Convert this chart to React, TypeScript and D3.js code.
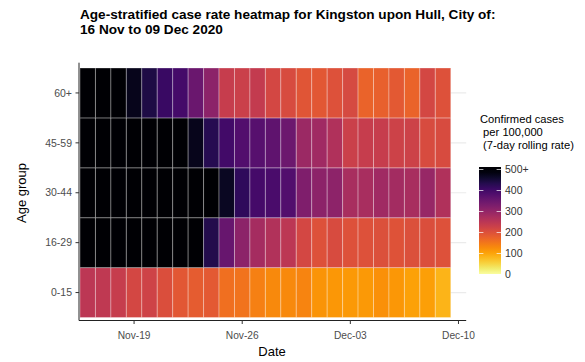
import React from "react";
import * as d3 from "d3";

const ageGroups = ["0-15", "16-29", "30-44", "45-59", "60+"];
const startDate = "2020-11-16";
const dayCount = 24;
const xTickDates = ["2020-11-19", "2020-11-26", "2020-12-03", "2020-12-10"];
const legendTicks = [0, 100, 200, 300, 400, 500];
const legendTickLabels = ["0", "100", "200", "300", "400", "500+"];

const rate0to15 = [250, 245, 235, 216, 224, 205, 190, 185, 188, 160, 155, 140, 130, 130, 135, 118, 115, 113, 112, 122, 115, 105, 107, 84];
const rate16to29 = [520, 520, 520, 520, 520, 515, 515, 510, 435, 355, 310, 278, 262, 250, 215, 200, 210, 200, 200, 202, 198, 202, 205, 200];
const rate30to44 = [520, 520, 520, 520, 520, 515, 515, 510, 505, 470, 420, 395, 390, 380, 325, 310, 308, 275, 275, 285, 280, 275, 295, 265];
const rate45to59 = [520, 520, 515, 515, 510, 510, 505, 475, 430, 400, 380, 375, 365, 348, 290, 285, 265, 230, 235, 235, 225, 225, 210, 210];
const rate60plus = [520, 510, 505, 475, 440, 410, 395, 350, 310, 235, 230, 240, 215, 210, 195, 190, 200, 212, 175, 178, 188, 175, 215, 200];

const seriesByAge: Record<string, number[]> = {
  "0-15": rate0to15,
  "16-29": rate16to29,
  "30-44": rate30to44,
  "45-59": rate45to59,
  "60+": rate60plus,
};

const FONT = "'Liberation Sans', Arial, Helvetica, sans-serif";
const DAY = 86400000;

export default function App() {
  const start = new Date(startDate + "T00:00:00Z");
  const dates = d3.range(dayCount).map((i) => new Date(start.getTime() + i * DAY));

  const x = d3
    .scaleUtc()
    .domain([new Date(start.getTime() - 0.5 * DAY), new Date(start.getTime() + 24.5 * DAY)])
    .range([80, 466.2]);
  const cellW = x(new Date(start.getTime() + DAY)) - x(start);

  const y = d3.scaleBand<string>().domain([...ageGroups].reverse()).range([68, 317.5]).padding(0);

  const color = (v: number) => d3.interpolateInferno(1 - Math.min(v, 500) / 500);

  const panelTop = 62.7;
  const panelBottom = 320.5;
  const panelLeft = 79;
  const panelRight = 466.2;

  const fmt = d3.utcFormat("%b-%d");

  const lg = d3.scaleLinear().domain([0, 500]).range([274.5, 169.5]);
  const barTop = 167;
  const barBottom = 274;
  const barX = 479;
  const barW = 22;
  const gradStops = d3.range(0, 1.0001, 0.05).map((f) => {
    const yy = barTop + f * (barBottom - barTop);
    const v = Math.max(0, Math.min(500, lg.invert(yy)));
    return { offset: f, color: color(v) };
  });

  return (
    <svg width={585} height={362} style={{ position: "absolute", left: 0, top: 0, background: "#fff" }} fontFamily={FONT}>
      <defs>
        <linearGradient id="lgGrad" x1="0" y1="0" x2="0" y2="1">
          {gradStops.map((s, i) => (
            <stop key={i} offset={s.offset} stopColor={s.color} />
          ))}
        </linearGradient>
      </defs>

      {/* title */}
      <text x={80} y={18.5} fontSize={13.6} fontWeight="bold" fill="#000">
        Age-stratified case rate heatmap for Kingston upon Hull, City of:
      </text>
      <text x={80} y={34} fontSize={13.6} fontWeight="bold" fill="#000">
        16 Nov to 09 Dec 2020
      </text>

      {/* grid lines */}
      {ageGroups.map((g) => (
        <line key={"g" + g} x1={panelLeft} x2={panelRight} y1={y(g)! + y.bandwidth() / 2} y2={y(g)! + y.bandwidth() / 2} stroke="#ebebeb" strokeWidth={1.2} />
      ))}

      {/* tiles */}
      {ageGroups.map((g) =>
        seriesByAge[g].map((v, i) => (
          <rect
            key={g + i}
            x={x(dates[i]) - cellW / 2}
            y={y(g)!}
            width={cellW}
            height={y.bandwidth()}
            fill={color(v)}
            stroke="rgba(255,255,255,0.3)"
            strokeWidth={1}
          />
        ))
      )}

      {/* axes */}
      <line x1={panelLeft} x2={panelLeft} y1={panelTop} y2={panelBottom} stroke="#222" strokeWidth={1} />
      <line x1={panelLeft} x2={panelRight} y1={panelBottom} y2={panelBottom} stroke="#222" strokeWidth={1} />
      {ageGroups.map((g) => {
        const cy = y(g)! + y.bandwidth() / 2;
        return (
          <g key={"yt" + g}>
            <line x1={panelLeft - 3.5} x2={panelLeft} y1={cy} y2={cy} stroke="#333" />
            <text x={72} y={cy + 3.7} fontSize={10.5} textAnchor="end" fill="#4d4d4d">
              {g}
            </text>
          </g>
        );
      })}
      {xTickDates.map((ds) => {
        const d = new Date(ds + "T00:00:00Z");
        const tx = x(d);
        return (
          <g key={"xt" + ds}>
            <line x1={tx} x2={tx} y1={panelBottom} y2={panelBottom + 3.5} stroke="#333" />
            <text x={tx} y={338.5} fontSize={10.2} textAnchor="middle" fill="#4d4d4d">
              {fmt(d)}
            </text>
          </g>
        );
      })}

      {/* axis titles */}
      <text x={272} y={356} fontSize={13} textAnchor="middle" fill="#000">
        Date
      </text>
      <text transform="translate(26,193) rotate(-90)" fontSize={13} textAnchor="middle" fill="#000">
        Age group
      </text>

      {/* legend */}
      <text fontSize={11.2} fill="#000">
        <tspan x={480} y={122.5}>Confirmed cases</tspan>
        <tspan x={480} y={135.5}>{"\u00a0per 100,000"}</tspan>
        <tspan x={480} y={148.5}>{"\u00a0(7-day rolling rate)"}</tspan>
      </text>
      <rect x={barX} y={barTop} width={barW} height={barBottom - barTop} fill="url(#lgGrad)" />
      {legendTicks.map((t, i) => (
        <g key={"lt" + t}>
          <line x1={barX} x2={barX + 4.4} y1={lg(t)} y2={lg(t)} stroke="rgba(255,255,255,0.7)" />
          <line x1={barX + barW - 4.4} x2={barX + barW} y1={lg(t)} y2={lg(t)} stroke="rgba(255,255,255,0.7)" />
          <text x={505} y={lg(t) + 3.8} fontSize={10.5} fill="#333">
            {legendTickLabels[i]}
          </text>
        </g>
      ))}
    </svg>
  );
}
